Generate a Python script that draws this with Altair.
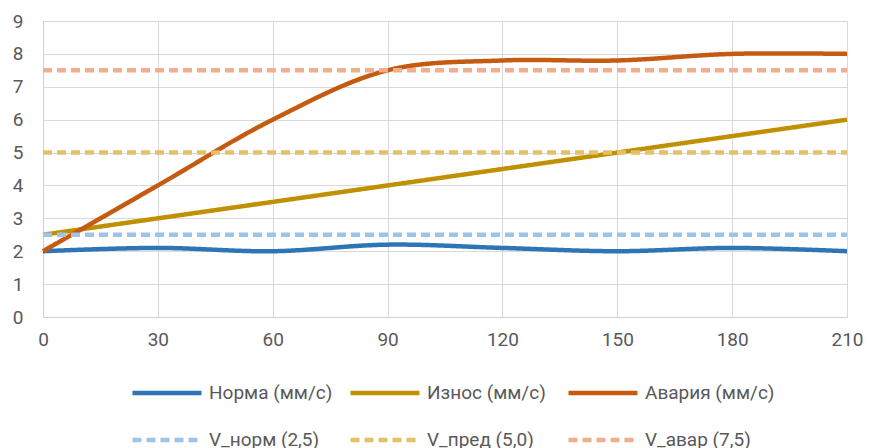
import altair as alt
import pandas as pd

# ---- data ----
x_vals = [0, 30, 60, 90, 120, 150, 180, 210]
norma = [2.0, 2.1, 2.0, 2.2, 2.1, 2.0, 2.1, 2.0]
iznos = [2.5, 3.0, 3.5, 4.0, 4.5, 5.0, 5.5, 6.0]
avaria = [2.0, 4.0, 6.0, 7.5, 7.8, 7.8, 8.0, 8.0]
series_names = ["Норма (мм/с)", "Износ (мм/с)", "Авария (мм/с)"]
thr_names = ["V_норм (2,5)", "V_пред (5,0)", "V_авар (7,5)"]
thr_values = [2.5, 5.0, 7.5]
y_ticks = [0, 1, 2, 3, 4, 5, 6, 7, 8, 9]

colors = ["#2E75B6", "#BF9000", "#C55A11", "#9DC3E6", "#E2C169", "#F0B08A"]

rows = []
for name, vals in zip(series_names, [norma, iznos, avaria]):
    for i, (x, y) in enumerate(zip(x_vals, vals)):
        rows.append({"series": name, "x": x, "y": y, "o": i})
for name, v in zip(thr_names, thr_values):
    rows.append({"series": name, "x": x_vals[0], "y": v, "o": 0})
    rows.append({"series": name, "x": x_vals[-1], "y": v, "o": 1})
df = pd.DataFrame(rows)

domain = series_names + thr_names

chart = alt.Chart(df).mark_line(interpolate="catmull-rom").encode(
    x=alt.X("x:Q", scale=alt.Scale(domain=[0, 210], nice=False),
            axis=alt.Axis(values=x_vals, title=None, labelPadding=13, labelFlush=False)),
    y=alt.Y("y:Q", scale=alt.Scale(domain=[0, 9], nice=False),
            axis=alt.Axis(values=y_ticks, title=None, labelPadding=20, labelFlush=False)),
    color=alt.Color("series:N", scale=alt.Scale(domain=domain, range=colors),
                    legend=alt.Legend(title=None, orient="none", legendX=87, legendY=335,
                                      columns=3, direction="horizontal",
                                      symbolType="stroke", symbolSize=4761,
                                      labelFontSize=19, labelColor="#595959",
                                      labelFont="Roboto", gridAlign="all",
                                      columnPadding=2, rowPadding=-32, labelOffset=5)),
    strokeDash=alt.StrokeDash("series:N", scale=alt.Scale(domain=domain,
                              range=[[1, 0], [1, 0], [1, 0], [9, 5], [9, 5], [9, 5]]),
                              legend=None),
    strokeWidth=alt.StrokeWidth("series:N", scale=alt.Scale(domain=domain,
                                range=[4.5, 4.5, 4.5, 2.4, 2.4, 2.4]), legend=None),
    order="o:Q",
).properties(
    width=804, height=296,
    padding={"left": 4, "top": 4, "right": 0, "bottom": 0},
).configure_axis(
    gridColor="#D9D9D9", domainColor="#D0D0D0", ticks=False,
    labelFont="Roboto", labelFontSize=19, labelColor="#595959",
    minExtent=31, maxExtent=31,
).configure_view(stroke=None)

chart.save("out.html", embed_options={"renderer": "svg", "actions": False})
